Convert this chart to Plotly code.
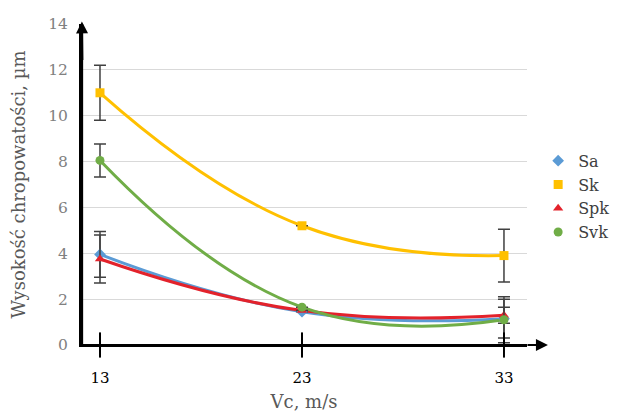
import plotly.graph_objects as go

vc = [13, 23, 33]
sa = [3.95, 1.45, 1.15]
sk = [11.0, 5.2, 3.9]
spk = [3.75, 1.5, 1.3]
svk = [8.05, 1.65, 1.1]

sa_err = [1.0, None, 0.85]
sk_err = [1.2, None, 1.15]
spk_err = [1.05, None, 0.35]
svk_err = [0.72, None, 1.0]

names = ["Sa", "Sk", "Spk", "Svk"]
values = [sa, sk, spk, svk]
errors = [sa_err, sk_err, spk_err, svk_err]
colors = ["#5B9BD5", "#FFC000", "#E3222B", "#70AD47"]
symbols = ["diamond", "square", "triangle-up", "circle"]

y_ticks = [0, 2, 4, 6, 8, 10, 12, 14]

SERIF = "DejaVu Serif"

fig = go.Figure()
for n, v, c in zip(names, values, colors):
    fig.add_trace(go.Scatter(
        x=vc, y=v, name=n, mode="lines", showlegend=False, hoverinfo="skip",
        line=dict(color=c, width=3, shape="spline", smoothing=1.3),
    ))
for n, v, e, c, s in zip(names, values, errors, colors, symbols):
    fig.add_trace(go.Scatter(
        x=vc, y=v, name=n, mode="markers",
        marker=dict(color=c, symbol=s, size=9),
        error_y=dict(type="data", array=e, symmetric=True,
                     color="#404040", thickness=1.5, width=6),
    ))

# tick marks crossing the x axis
fig.add_trace(go.Scatter(
    x=vc, y=[0] * len(vc), mode="markers", showlegend=False, hoverinfo="skip",
    marker=dict(symbol="line-ns", size=18, line=dict(color="black", width=2)),
    cliponaxis=False,
))

fig.update_layout(
    width=614, height=404,
    margin=dict(l=73, r=95, t=16, b=67, autoexpand=False),
    paper_bgcolor="white", plot_bgcolor="white",
    font=dict(family=SERIF, size=15, color="#595959"),
    showlegend=True,
    legend=dict(x=1.025, y=0.627, xanchor="left", yanchor="top",
                font=dict(family=SERIF, size=16, color="#404040"),
                itemwidth=30, tracegroupgap=0, bgcolor="rgba(0,0,0,0)"),
    xaxis=dict(
        range=[12.06, 34.14], tickvals=vc, ticktext=[str(v) for v in vc],
        showgrid=False, zeroline=False, showline=True, linecolor="black",
        linewidth=2, ticks="",
        tickfont=dict(family=SERIF, size=15, color="#000000"),
        ticklabelstandoff=18,
        title=dict(text="Vc, m/s", font=dict(family=SERIF, size=18, color="#595959"),
                   standoff=24),
    ),
    yaxis=dict(
        range=[0, 14], tickvals=y_ticks,
        showgrid=True, gridcolor="#d9d9d9", gridwidth=1,
        zeroline=False, showline=True, linecolor="black", linewidth=2, ticks="",
        tickfont=dict(family=SERIF, size=15.5, color="#808080"),
        ticklabelstandoff=8,
        title=dict(text="Wysokość chropowatości, µm",
                   font=dict(family=SERIF, size=18, color="#595959"),
                   standoff=30),
    ),
    shapes=[
        dict(type="line", xref="paper", yref="paper", x0=0.002, x1=0.002, y0=0, y1=1.0,
             line=dict(color="black", width=2.5), layer="above"),
        dict(type="line", xref="paper", yref="paper", x0=0, x1=1.0, y0=0, y1=0,
             line=dict(color="black", width=2), layer="above"),
    ],
    annotations=[
        dict(x=1.047, y=0, xref="paper", yref="y", ax=-22, ay=0,
             axref="pixel", ayref="pixel", text="", showarrow=True,
             arrowhead=2, arrowsize=1.2, arrowwidth=2, arrowcolor="black"),
        dict(x=0.002, y=1.008, xref="paper", yref="paper", ax=0.5, ay=40,
             axref="pixel", ayref="pixel", text="", showarrow=True,
             arrowhead=2, arrowsize=1.2, arrowwidth=2, arrowcolor="black"),
    ],
)

fig.write_html("out.html")
